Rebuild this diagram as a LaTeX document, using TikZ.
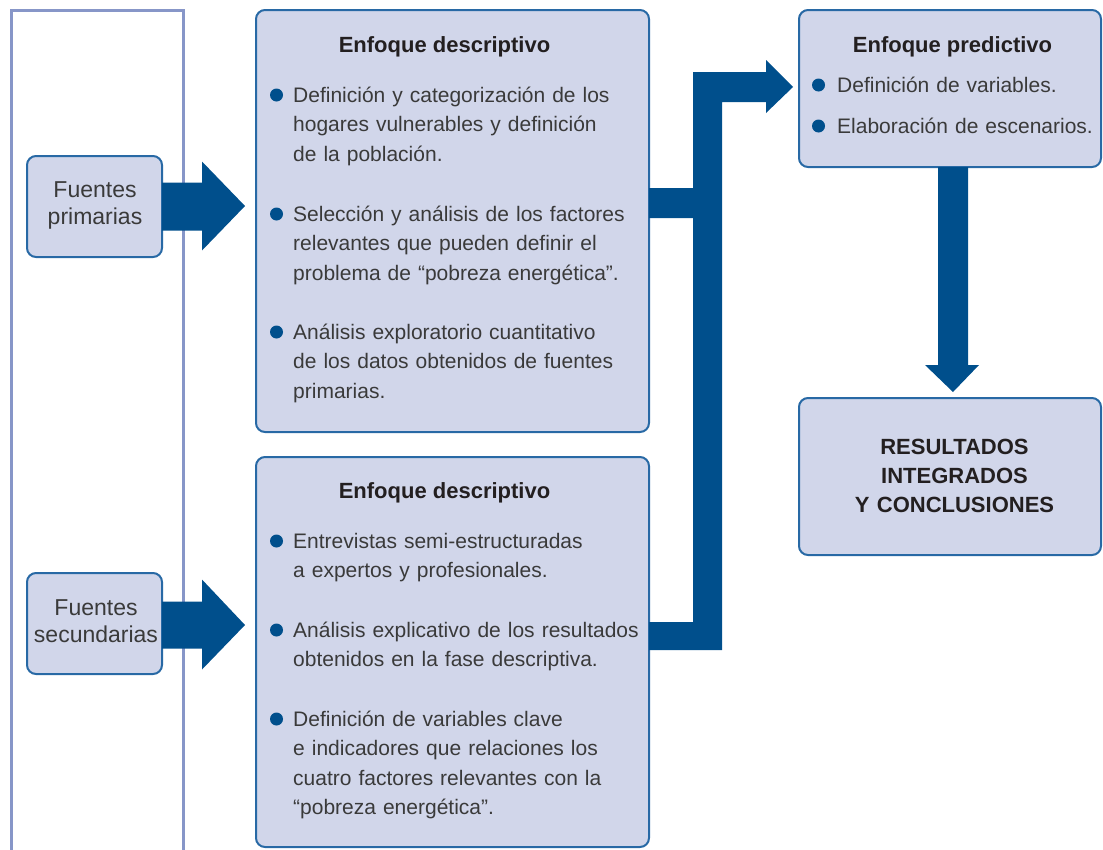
\documentclass[tikz,border=0pt]{standalone}
\usepackage{fontspec}
\setmainfont{Liberation Sans}
\usetikzlibrary{calc}
\definecolor{boxfill}{RGB}{209,214,234}
\definecolor{boxline}{RGB}{40,105,165}
\definecolor{arrowc}{RGB}{0,79,140}
\definecolor{colline}{RGB}{135,150,200}
\definecolor{bodytext}{RGB}{58,58,58}
\definecolor{titletext}{RGB}{35,31,32}
\begin{document}
\begin{tikzpicture}[x=1pt,y=-1pt,
  panel/.style={draw=boxline, fill=boxfill, line width=2pt, rounded corners=9pt, inner sep=0pt, outer sep=0pt},
  ttl/.style={anchor=base, inner sep=0pt, text=titletext, font=\bfseries\fontsize{22}{26}\selectfont},
  btxt/.style={anchor=base west, inner sep=0pt, align=left, text width=350pt, text=bodytext, font=\fontsize{21}{29.6}\selectfont},
  ftxt/.style={anchor=base, inner sep=0pt, align=center, text width=150pt, text=bodytext, font=\fontsize{23}{27.5}\selectfont},
  rtxt/.style={anchor=base, inner sep=0pt, align=center, text width=300pt, text=titletext, font=\bfseries\fontsize{22}{29}\selectfont},
  bigarrow/.style={fill=arrowc, draw=none},
  dot/.style={fill=arrowc}
]
\useasboundingbox (0,0) rectangle (1103,849);
\clip (0,0) rectangle (1103,849);

% left column
\node[draw=colline, line width=3pt, fill=white, minimum width=172pt, minimum height=870pt, inner sep=0pt, outer sep=0pt] (col) at (97,445) {};

% source boxes
\node[panel, minimum width=135pt, minimum height=101pt] (fp) at (94.5,206.5) {};
\node[ftxt] (fpt) at (95,197) {Fuentes\\primarias};
\node[panel, minimum width=135pt, minimum height=101pt] (fs) at (94.5,623.5) {};
\node[ftxt] (fst) at (96,615) {Fuentes\\secundarias};

% main boxes
\node[panel, minimum width=393pt, minimum height=422pt] (d1) at (452.5,221) {};
\node[panel, minimum width=393pt, minimum height=390pt] (d2) at (452.5,652) {};
\node[panel, minimum width=302pt, minimum height=157pt] (pr) at (950,88.5) {};
\node[panel, minimum width=302pt, minimum height=157pt] (rs) at (950,476.5) {};

% arrows from sources
\fill[bigarrow, shift={(fp.east)}] (0,-24) -- (40,-24) -- (40,-45) -- (83,-0.5) -- (40,44) -- (40,24) -- (0,24) -- cycle;
\fill[bigarrow, shift={(fs.east)}] (0,-22) -- (40,-22) -- (40,-44) -- (83,1.5) -- (40,46) -- (40,25) -- (0,25) -- cycle;

% merging connector
\coordinate (tip) at ($(pr.west)+(-6,-1.5)$);
\fill[bigarrow] ($(d1.east)+(0,-33)$) -- ($(d1.east)+(44,-33)$) -- ($(tip)+(-100,-15)$)
  -- ($(tip)+(-27,-15)$) -- ($(tip)+(-27,-27)$) -- (tip) -- ($(tip)+(-27,26)$)
  -- ($(tip)+(-27,15)$) -- ($(tip)+(-71,15)$) -- ($(d2.east)+(73,-2)$)
  -- ($(d2.east)+(0,-2)$) -- ($(d2.east)+(0,-30)$) -- ($(d2.east)+(44,-30)$)
  -- ($(d1.east)+(44,-3)$) -- ($(d1.east)+(0,-3)$) -- cycle;

% down arrow
\fill[bigarrow, shift={(pr.south)}] (-12,0) -- (18,0) -- (18,198) -- (29,198) -- (3,225) -- (-25,198) -- (-12,198) -- cycle;

% box 1 text
\node[ttl] (t1) at (444.5,52) {Enfoque descriptivo};
\node[btxt] (b11) at (293,102) {Definición y categorización de los\\hogares vulnerables y definición\\de la población.};
\node[btxt] (b12) at (293,221) {Selección y análisis de los factores\\relevantes que pueden definir el\\problema de “pobreza energética”.};
\node[btxt] (b13) at (293,339) {Análisis exploratorio cuantitativo\\de los datos obtenidos de fuentes\\primarias.};
\foreach \n in {b11,b12,b13} \fill[dot] ($(\n.base west)+(-16.5,-7)$) circle[radius=6.5pt];

% box 2 text
\node[ttl] (t2) at (444.5,498) {Enfoque descriptivo};
\node[btxt] (b21) at (293,548) {Entrevistas semi-estructuradas\\a expertos y profesionales.};
\node[btxt] (b22) at (293,637) {Análisis explicativo de los resultados\\obtenidos en la fase descriptiva.};
\node[btxt] (b23) at (293,726) {Definición de variables clave\\e indicadores que relaciones los\\cuatro factores relevantes con la\\“pobreza energética”.};
\foreach \n in {b21,b22,b23} \fill[dot] ($(\n.base west)+(-16.5,-7)$) circle[radius=6.5pt];

% predictive box text
\node[ttl] (t3) at (952.5,52) {Enfoque predictivo};
\node[btxt] (b31) at (837,92) {Definición de variables.};
\node[btxt] (b32) at (837,133) {Elaboración de escenarios.};
\foreach \n in {b31,b32} \fill[dot] ($(\n.base west)+(-18.5,-7)$) circle[radius=6.5pt];

% results
\node[rtxt] (rt) at (954.5,454) {RESULTADOS\\INTEGRADOS\\Y CONCLUSIONES};
\end{tikzpicture}
\end{document}
